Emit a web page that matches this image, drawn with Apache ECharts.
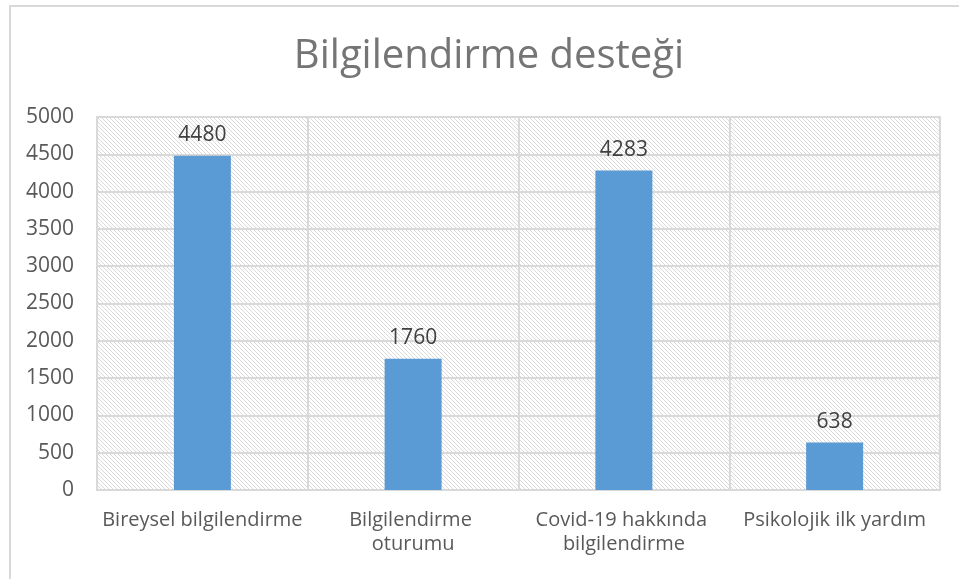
<!DOCTYPE html>
<html>
<head>
<meta charset="utf-8">
<script src="https://cdn.jsdelivr.net/npm/echarts@6/dist/echarts.min.js"></script>
<style>
  html, body { margin: 0; padding: 0; background: #fff; }
  #chart { width: 959px; height: 579px; }
  .frame { position: absolute; left: 9px; top: 5px; width: 960px; height: 600px; border: 2px solid #d9d9d9; box-sizing: border-box; pointer-events: none; }
</style>
</head>
<body>
<div id="chart"></div>
<div class="frame"></div>
<script>
const categories = ['Bireysel bilgilendirme', 'Bilgilendirme oturumu', 'Covid-19 hakkında bilgilendirme', 'Psikolojik ilk yardım'];
const values = [4480, 1760, 4283, 638];
const titleText = 'Bilgilendirme desteği';

// diagonal hatch for the plot area
const hatch = (() => {
  const c = document.createElement('canvas');
  c.width = 4;
  c.height = 4;
  const ctx = c.getContext('2d');
  ctx.fillStyle = '#ffffff';
  ctx.fillRect(0, 0, 4, 4);
  ctx.fillStyle = '#dadada';
  for (let i = 0; i < 4; i++) ctx.fillRect(i, i, 1, 1);
  return c;
})();

const font = '"Open Sans", sans-serif';
const chart = echarts.init(document.getElementById('chart'), null, { renderer: 'canvas' });

chart.setOption({
  animation: false,
  title: {
    text: titleText,
    left: 484,
    textAlign: 'center',
    top: 32,
    textStyle: { fontFamily: font, fontSize: 40, fontWeight: 'normal', color: '#757575' },
  },
  grid: {
    left: 97, right: 19, top: 117, bottom: 89,
    show: true,
    backgroundColor: { image: hatch, repeat: 'repeat' },
    borderColor: '#d9d9d9',
    borderWidth: 2,
  },
  xAxis: {
    type: 'category',
    data: categories,
    axisTick: { show: false },
    axisLine: { lineStyle: { color: '#d9d9d9', width: 2 } },
    splitLine: { show: true, interval: 0, lineStyle: { color: '#d9d9d9', width: 2 } },
    axisLabel: {
      interval: 0,
      margin: 18,
      width: 208,
      overflow: 'break',
      lineHeight: 24,
      fontFamily: font,
      fontSize: 20,
      color: '#595959',
    },
  },
  yAxis: {
    type: 'value',
    min: 0,
    max: 5000,
    interval: 500,
    axisLine: { show: false },
    axisTick: { show: false },
    splitLine: { lineStyle: { color: '#d9d9d9', width: 2 } },
    axisLabel: { margin: 23, fontFamily: font, fontSize: 21, color: '#595959', formatter: v => String(v) },
  },
  series: [{
    type: 'bar',
    data: values,
    barWidth: 57,
    itemStyle: { color: '#5b9bd5' },
    label: {
      show: true,
      position: 'top',
      distance: 10,
      fontFamily: font,
      fontSize: 21,
      color: '#404040',
    },
  }],
});
</script>
</body>
</html>
